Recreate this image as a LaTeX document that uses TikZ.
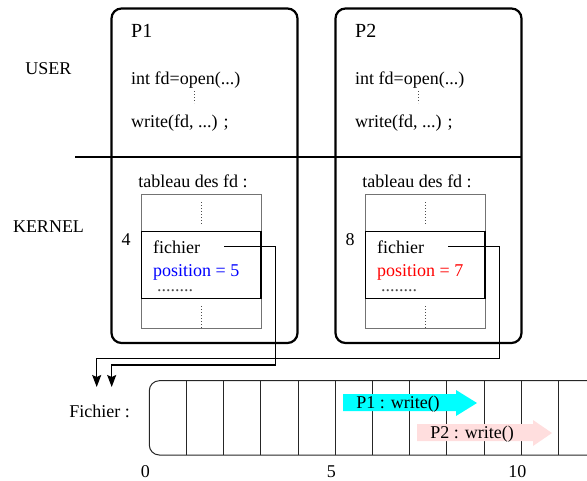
\documentclass[tikz,border=0pt]{standalone}
\usepackage{fontspec}
\setmainfont{Liberation Serif}
\usetikzlibrary{arrows.meta}

\definecolor{writeone}{RGB}{0,255,255}
\definecolor{writetwo}{RGB}{255,222,222}
\definecolor{p1pos}{RGB}{0,0,255}
\definecolor{p2pos}{RGB}{255,0,0}

\tikzset{
  txt/.style={inner sep=0pt, font=\fontsize{18}{20}\selectfont},
  ptitle/.style={inner sep=0pt, font=\fontsize{20}{22}\selectfont, anchor=base west},
  procbox/.style={draw, line width=2.2pt, rounded corners=10pt, inner sep=0pt},
  sepline/.style={line width=2.2pt},
  fdgrey/.style={draw=black!55, line width=0.9pt},
  fdentry/.style={draw=black, line width=1.1pt},
  vdots/.style={line width=0.9pt, dash pattern=on 0.8pt off 2.2pt, black!70},
  conn/.style={line width=1.2pt, -{Stealth[length=12pt,width=9pt,inset=2pt]}},
  cellline/.style={line width=1pt, black!85},
}

\begin{document}
\begin{tikzpicture}[x=1pt,y=-1pt]
\useasboundingbox (0,0) rectangle (587,480);

% process boxes
\node[procbox, minimum width=186pt, minimum height=334.5pt] (p1box) at (204.5,175.75) {};
\node[procbox, minimum width=186pt, minimum height=334.5pt] (p2box) at (428.5,175.75) {};

% user / kernel boundary
\coordinate (sepL) at (75,157);
\coordinate (sepR) at (522,157);
\draw[sepline] (sepL) -- (sepR);

\node[txt] (user) at (48.5,69) {USER};
\node[txt] (kernel) at (48.5,226.5) {KERNEL};

% ---------- process P1 ----------
\node[ptitle] (p1t) at (131,37.5) {P1};
\node[txt, anchor=base west] (p1open) at (131,84) {int fd=open(...)};
\node[txt, anchor=base west] (p1write) at (131,127) {write(fd, ...) ;};
\draw[vdots] (194,91) -- (194,103);
\node[txt, anchor=base] (p1tab) at (193,187) {tableau des fd :};
\draw[fdgrey] (141.7,194) rectangle (261,328);
\draw[fdentry] (141.7,231.7) rectangle (261,298.3);
\draw[vdots] (201.7,202) -- (201.7,224);
\draw[vdots] (201.7,306) -- (201.7,328);
\node[txt, anchor=base] (p1idx) at (126,245) {4};
\node[txt, anchor=base west] (p1fic) at (153,253) {fichier};
\node[txt, anchor=base west, text=p1pos] (p1pos) at (153,276) {position = 5};
\node[txt, anchor=base west, text=black!70] (p1etc) at (157,291) {........};

% ---------- process P2 ----------
\node[ptitle] (p2t) at (355,37.5) {P2};
\node[txt, anchor=base west] (p2open) at (355,84) {int fd=open(...)};
\node[txt, anchor=base west] (p2write) at (355,127) {write(fd, ...) ;};
\draw[vdots] (418,91) -- (418,103);
\node[txt, anchor=base] (p2tab) at (417,187) {tableau des fd :};
\draw[fdgrey] (365.7,194) rectangle (485,328);
\draw[fdentry] (365.7,231.7) rectangle (485,298.3);
\draw[vdots] (425.7,202) -- (425.7,224);
\draw[vdots] (425.7,306) -- (425.7,328);
\node[txt, anchor=base] (p2idx) at (350,245) {8};
\node[txt, anchor=base west] (p2fic) at (377,253) {fichier};
\node[txt, anchor=base west, text=p2pos] (p2pos) at (377,276) {position = 7};
\node[txt, anchor=base west, text=black!70] (p2etc) at (381,291) {........};

% ---------- the shared file ----------
\node[txt, anchor=base] (ficlbl) at (99.5,417) {Fichier :};
\draw[cellline, rounded corners=10pt] (149.3,380.7) rectangle (600,455);
\foreach \k in {1,...,11}
  \draw[cellline] ({149.3+37.2*\k},380.7) -- ({149.3+37.2*\k},455);
\node[txt, anchor=base] (off0) at (145.3,477) {0};
\node[txt, anchor=base] (off5) at (331.3,477) {5};
\node[txt, anchor=base] (off10) at (517.3,477) {10};

% write ranges
\fill[writeone] (343,394) -- (456,394) -- (456,390) -- (477,403) -- (456,416) -- (456,411) -- (343,411) -- cycle;
\node[txt] (w1) at (398,404) {P1 : write()};
\fill[writetwo] (417,424) -- (533,424) -- (533,420) -- (552,433) -- (533,446) -- (533,441) -- (417,441) -- cycle;
\node[txt] (w2) at (472,434) {P2 : write()};

% file pointers
\coordinate (f1) at (224,246.7);
\coordinate (c1) at (275.7,365);
\coordinate (in1) at (111.7,387);
\coordinate (f2) at (448,246.7);
\coordinate (c2) at (499.7,358.3);
\coordinate (in2) at (96.7,387);
\draw[conn] (f1) -| (c1) -| (in1);
\draw[conn] (f2) -| (c2) -| (in2);
\end{tikzpicture}
\end{document}
